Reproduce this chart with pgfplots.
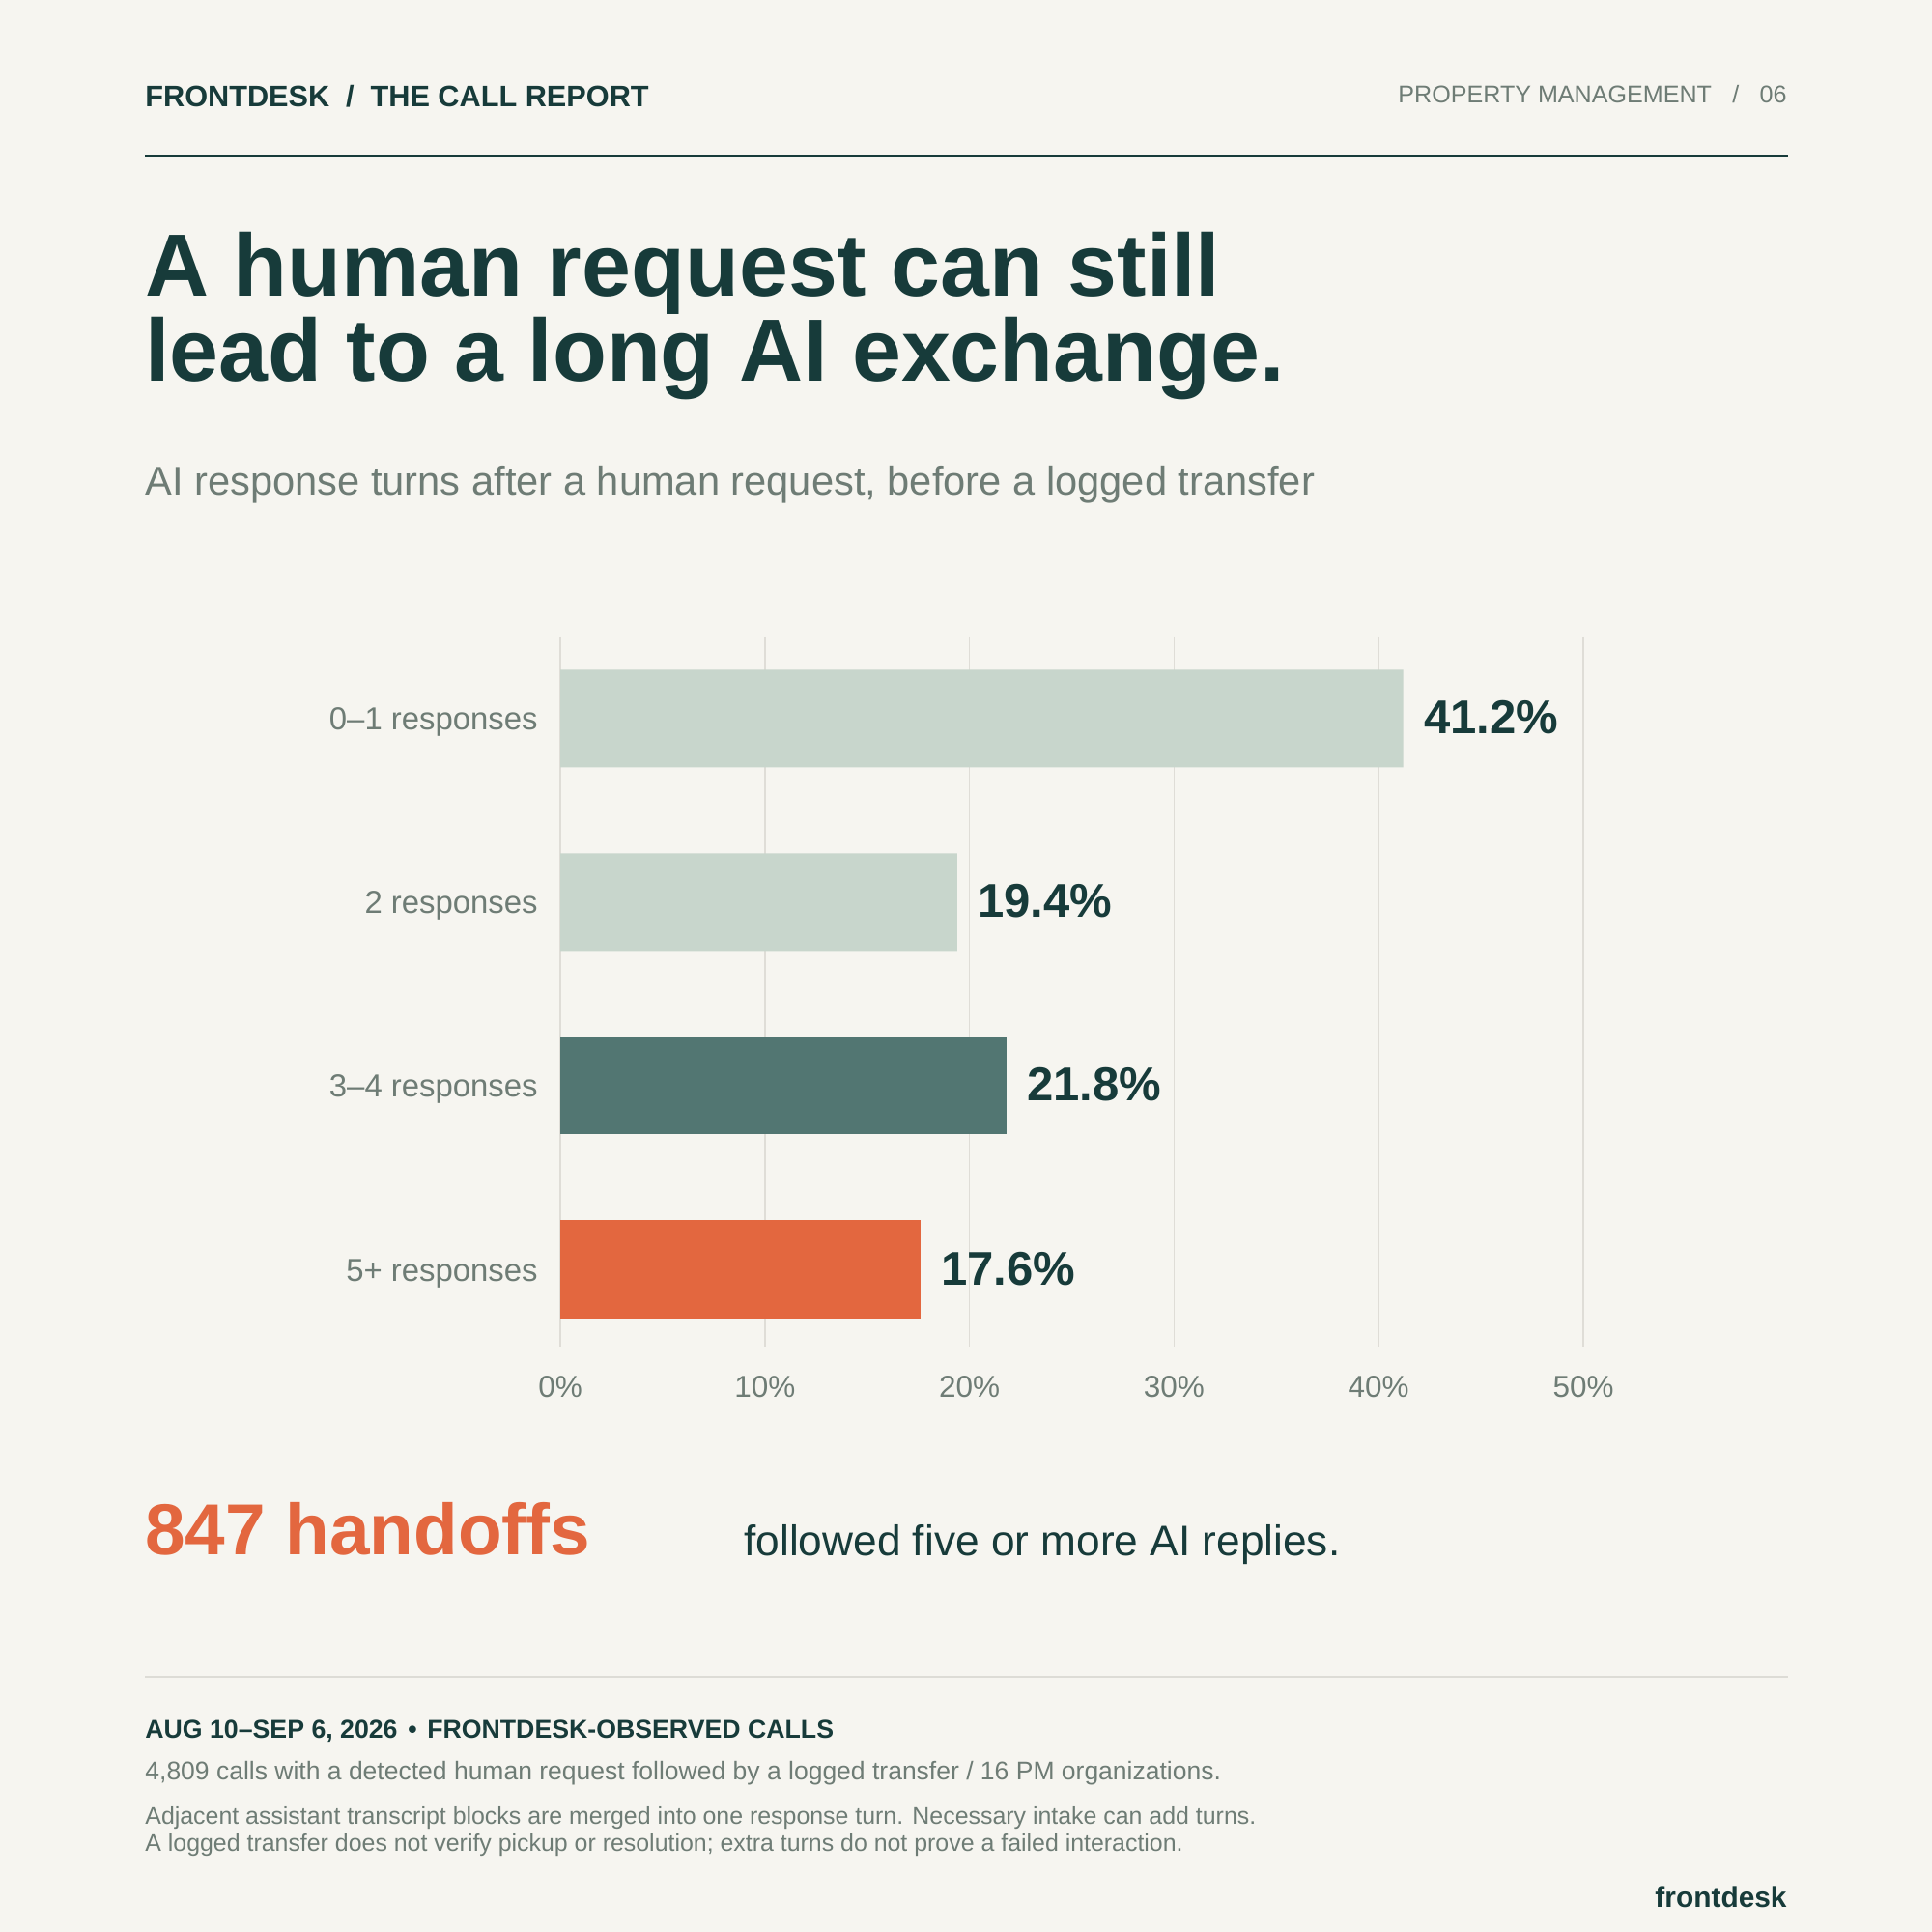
\documentclass[border=0pt]{standalone}
\usepackage{pgfplots}
\pgfplotsset{compat=1.18}
\usepackage{fontspec}
\setmainfont{Liberation Sans}
\definecolor{bg}{HTML}{F6F5F0}
\definecolor{dark}{HTML}{173B3A}
\definecolor{graytxt}{HTML}{6E7C75}
\definecolor{lightbar}{HTML}{C8D6CC}
\definecolor{midbar}{HTML}{527672}
\definecolor{orange}{HTML}{E3673F}
\definecolor{gridc}{HTML}{DFDDD7}
\definecolor{rulec}{HTML}{DDDCD6}
\begin{document}
\begin{tikzpicture}[x=1bp,y=1bp]
\fill[bg] (0,0) rectangle (1000,1000);
\useasboundingbox (0,0) rectangle (1000,1000);
% header
\node[anchor=base west, inner sep=0, text=dark, font=\fontsize{15.4}{19}\selectfont\bfseries] at (75,944.5) {FRONTDESK\hspace{0.55em}/\hspace{0.55em}THE CALL REPORT};
\node[anchor=base east, inner sep=0, text=graytxt, font=\fontsize{12.6}{16}\selectfont] at (925,946.5) {PROPERTY MANAGEMENT\hspace{0.85em}/\hspace{0.85em}06};
\draw[dark, line width=1.5] (75,919) -- (925.5,919);
% title
\node[anchor=base west, inner sep=0, text=dark, font=\fontsize{45.9}{50}\selectfont\bfseries] at (75,846.5) {A human request can still};
\node[anchor=base west, inner sep=0, text=dark, font=\fontsize{45.9}{50}\selectfont\bfseries] at (75,802.5) {lead to a long AI exchange.};
\node[anchor=base west, inner sep=0, text=graytxt, font=\fontsize{20.9}{25}\selectfont] at (75,743.5) {AI response turns after a human request, before a logged transfer};
% chart
\begin{axis}[
  at={(554.75bp,486.75bp)}, anchor=center,
  scale only axis, width=529.5bp, height=367.5bp,
  xmin=0, xmax=50, ymin=-0.447, ymax=3.421,
  y dir=reverse,
  xbar, bar width=50.5bp, bar shift=0pt,
  axis line style={draw=none},
  major tick length=0pt,
  xtick={0,10,20,30,40,50},
  xticklabels={0\%,10\%,20\%,30\%,40\%,50\%},
  ytick={0,1,2,3},
  yticklabels={0–1 responses,2 responses,3–4 responses,5+ responses},
  xmajorgrids, ymajorgrids=false,
  grid style={color=gridc, line width=0.75bp},
  xticklabel style={anchor=base, inner sep=0pt, yshift=-26bp, text=graytxt, font=\fontsize{15.8}{18}\selectfont},
  yticklabel style={anchor=base east, inner sep=0pt, xshift=-11.5bp, yshift=-6bp, text=graytxt, font=\fontsize{16.5}{19}\selectfont},
  /pgf/number format/assume math mode=true,
  point meta=explicit symbolic,
  nodes near coords,
  every node near coord/.append style={anchor=base west, inner sep=0pt, xshift=10.5bp, yshift=-8bp, text=dark, font=\fontsize{24.6}{28}\selectfont\bfseries},
]
\addplot[fill=lightbar, draw=none] coordinates {(41.2,0) [41.2\%] (19.4,1) [19.4\%]};
\addplot[fill=midbar, draw=none] coordinates {(21.8,2) [21.8\%]};
\addplot[fill=orange, draw=none] coordinates {(17.6,3) [17.6\%]};
\end{axis}
% callout
\node[anchor=base west, inner sep=0, text=orange, font=\fontsize{37.5}{42}\selectfont\bfseries] at (75,195) {847 handoffs};
\node[anchor=base west, inner sep=0, text=dark, font=\fontsize{22.2}{26}\selectfont] at (385,194.5) {followed five or more AI replies.};
% footer
\draw[rulec, line width=1.5] (75,132) -- (925.5,132);
\node[anchor=base west, inner sep=0, text=dark, font=\fontsize{13.4}{16}\selectfont\bfseries] at (75,100) {AUG 10–SEP 6, 2026\hspace{0.4em}•\hspace{0.4em}FRONTDESK-OBSERVED CALLS};
\node[anchor=base west, inner sep=0, text=graytxt, font=\fontsize{13.3}{15}\selectfont] at (75,78.5) {4,809 calls with a detected human request followed by a logged transfer / 16 PM organizations.};
\node[anchor=base west, inner sep=0, text=graytxt, font=\fontsize{12.5}{15}\selectfont] at (75,55.5) {Adjacent assistant transcript blocks are merged into one response turn. Necessary intake can add turns.};
\node[anchor=base west, inner sep=0, text=graytxt, font=\fontsize{12.5}{15}\selectfont] at (75,41.5) {A logged transfer does not verify pickup or resolution; extra turns do not prove a failed interaction.};
\node[anchor=base east, inner sep=0, text=dark, font=\fontsize{15}{18}\selectfont\bfseries] at (925,12.5) {frontdesk};
\end{tikzpicture}
\end{document}
